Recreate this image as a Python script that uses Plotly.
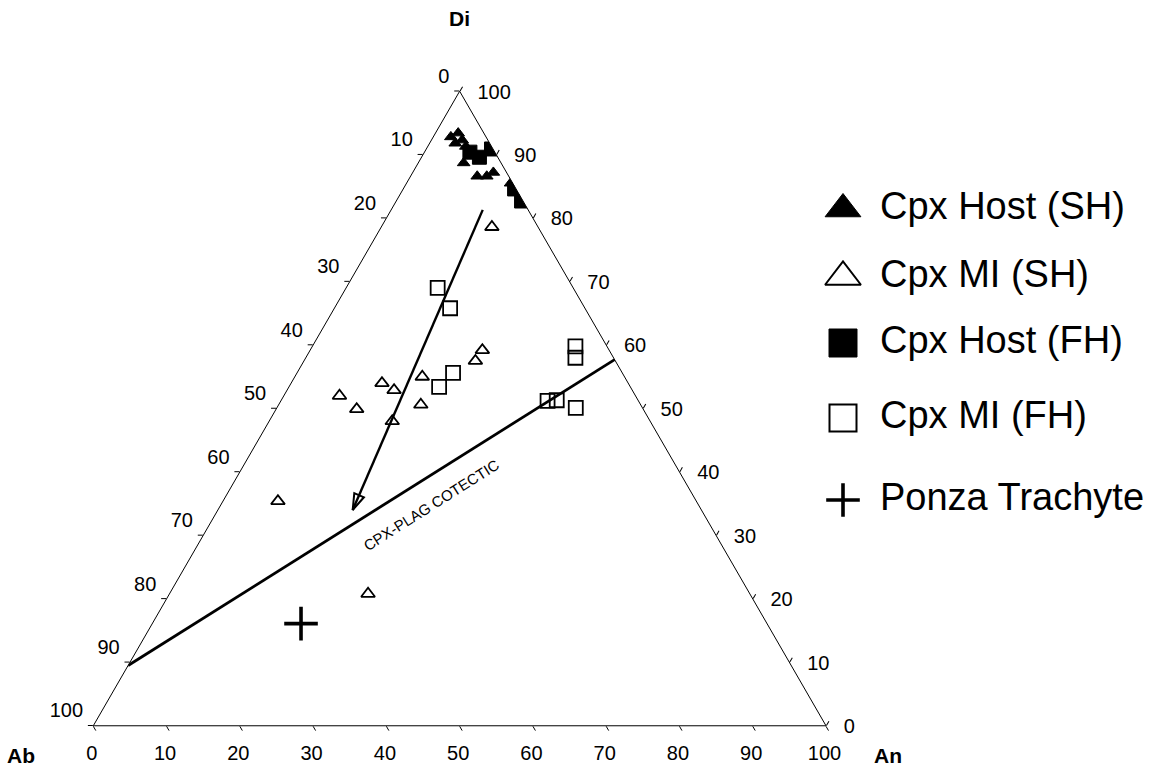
import plotly.graph_objects as go

# ---- compositions (mol %): Di / Ab / An ----
host_sh_di = [92.8, 93.4, 91.8, 92.3, 91.3, 88.7, 86.6, 86.6, 87.2, 85.5]
host_sh_ab = [4.8, 3.5, 4.7, 3.5, 3.5, 5.1, 4.3, 3.0, 1.8, 0.3]
host_sh_an = [2.4, 3.1, 3.5, 4.2, 5.2, 6.2, 9.1, 10.4, 11.0, 14.2]

mi_sh_di = [78.6, 59.2, 57.5, 55.0, 54.0, 52.9, 52.0, 49.9, 50.6, 48.0, 35.4, 20.8]
mi_sh_ab = [6.3, 17.3, 19.1, 27.6, 33.6, 32.5, 40.4, 39.1, 30.0, 35.2, 57.1, 52.1]
mi_sh_an = [15.1, 23.5, 23.4, 17.4, 12.4, 14.6, 7.6, 11.0, 19.4, 16.8, 7.5, 27.1]

host_fh_di = [90.4, 89.6, 90.9, 84.6, 82.7]
host_fh_ab = [3.4, 2.5, 0.2, 0.2, 0.2]
host_fh_an = [6.2, 7.9, 8.9, 15.2, 17.1]

mi_fh_di = [69.0, 65.8, 55.6, 53.4, 59.8, 58.0, 51.2, 51.3, 50.1]
mi_fh_ab = [18.5, 18.4, 23.1, 26.1, 4.3, 5.2, 12.4, 11.1, 9.1]
mi_fh_an = [12.5, 15.8, 21.3, 20.5, 35.9, 36.8, 36.4, 37.6, 40.8]

ponza_di = [16.1]
ponza_ab = [63.6]
ponza_an = [20.3]

# Cpx-Plag cotectic and the melt-inclusion evolution trend
cotectic_di = [9.5, 57.7]
cotectic_ab = [90.5, 0.0]
cotectic_an = [0.0, 42.3]

trend_di = [81.3, 34.0]
trend_ab = [6.2, 47.6]
trend_an = [12.5, 18.4]

tick_vals = list(range(0, 101, 10))
series_names = ["Cpx Host (SH)", "Cpx MI (SH)", "Cpx Host (FH)", "Cpx MI (FH)", "Ponza Trachyte"]

FONT = "Liberation Sans, Arial, sans-serif"
W, H = 1150, 769
# triangle placement (pixels): bottom-left / bottom-right x, bottom / apex y
TX0, TX1, TY_BOT, TY_TOP = 93.3, 826.0, 726.0, 91.0

fig = go.Figure()

fig.add_trace(go.Scatterternary(
    a=cotectic_di, b=cotectic_ab, c=cotectic_an, mode="lines",
    line=dict(color="black", width=2.8), showlegend=False, hoverinfo="skip"))

fig.add_trace(go.Scatterternary(
    a=trend_di, b=trend_ab, c=trend_an, mode="lines+markers",
    line=dict(color="black", width=2.4),
    marker=dict(symbol=["circle", "arrow-open"], size=[0, 17], angleref="previous",
                opacity=1, color="black", line=dict(color="black", width=2)),
    showlegend=False, hoverinfo="skip"))

styles = [
    (host_sh_di, host_sh_ab, host_sh_an, "triangle-up", 11, 1),
    (mi_sh_di, mi_sh_ab, mi_sh_an, "triangle-up-open", 12, 1.8),
    (host_fh_di, host_fh_ab, host_fh_an, "square", 14, 1),
    (mi_fh_di, mi_fh_ab, mi_fh_an, "square-open", 14, 1.8),
    (ponza_di, ponza_ab, ponza_an, "cross-thin-open", 24, 3.6),
]
for (a, b, c, sym, size, lw), name in zip(styles, series_names):
    fig.add_trace(go.Scatterternary(
        a=a, b=b, c=c, mode="markers", name=name,
        marker=dict(symbol=sym, size=size, color="black", opacity=1,
                    line=dict(color="black", width=lw)),
        showlegend=False))

# ---- legend drawn as its own panel on the right ----
legend_syms = [("triangle-up", 31, 1), ("triangle-up-open", 31, 2),
               ("square", 28, 1), ("square-open", 27, 2), ("cross-thin-open", 24, 3.6)]
legend_row_y = [209, 277, 343, 418, 500]
fig.add_trace(go.Scatter(
    x=[843] * len(series_names), y=legend_row_y, mode="markers",
    marker=dict(symbol=[s[0] for s in legend_syms], size=[s[1] for s in legend_syms],
                opacity=1, color="black",
                line=dict(color="black", width=[s[2] for s in legend_syms])),
    xaxis="x", yaxis="y", showlegend=False, hoverinfo="skip", cliponaxis=False))
fig.add_trace(go.Scatter(
    x=[880] * len(series_names), y=legend_row_y, mode="text", text=series_names,
    textposition="middle right", textfont=dict(family=FONT, size=38, color="black"),
    xaxis="x", yaxis="y", showlegend=False, hoverinfo="skip", cliponaxis=False))


def ternary_axis(labels, line):
    return dict(
        title=dict(text=""),
        tickmode="array", tickvals=tick_vals,
        ticktext=[str(100 - v) for v in tick_vals],
        ticks="outside", ticklen=5, tickwidth=1,
        tickcolor="black" if line else "rgba(0,0,0,0)",
        showticklabels=labels,
        showgrid=False, showline=line, linecolor="black", linewidth=1,
        tickfont=dict(family=FONT, size=20, color="black"),
    )


def domain(dx=0.0, dy=0.0):
    # dx, dy in pixels (dy positive = downwards)
    return dict(x=[(TX0 + dx) / W, (TX1 + dx) / W],
                y=[1 - (TY_BOT + dy) / H, 1 - (TY_TOP + dy) / H])


# main triangle: edges and tick marks; tick labels sit on transparent overlays
# so that each edge's numbers can be spaced independently of the tick marks
ternaries = dict(
    ternary=dict(sum=100, domain=domain(), bgcolor="white",
                 aaxis=ternary_axis(False, True), baxis=ternary_axis(False, True),
                 caxis=ternary_axis(False, True)),
    ternary2=dict(sum=100, domain=domain(-2, -13), bgcolor="rgba(0,0,0,0)",
                  aaxis=ternary_axis(True, False), baxis=ternary_axis(False, False),
                  caxis=ternary_axis(False, False)),
    ternary3=dict(sum=100, domain=domain(-4, 4), bgcolor="rgba(0,0,0,0)",
                  aaxis=ternary_axis(False, False), baxis=ternary_axis(True, False),
                  caxis=ternary_axis(False, False)),
    ternary4=dict(sum=100, domain=domain(12, 7), bgcolor="rgba(0,0,0,0)",
                  aaxis=ternary_axis(False, False), baxis=ternary_axis(False, False),
                  caxis=ternary_axis(True, False)),
)
for sp in ["ternary2", "ternary3", "ternary4"]:
    fig.add_trace(go.Scatterternary(a=[], b=[], c=[], subplot=sp, mode="markers",
                                    showlegend=False, hoverinfo="skip"))

fig.update_layout(
    width=W, height=H,
    margin=dict(l=0, r=0, t=0, b=0),
    paper_bgcolor="white", plot_bgcolor="rgba(0,0,0,0)",
    showlegend=False,
    xaxis=dict(domain=[828 / W, 1], range=[828, W], visible=False, fixedrange=True),
    yaxis=dict(domain=[0, 1], range=[H, 0], visible=False, fixedrange=True),
    annotations=[
        dict(text="<b>Di</b>", x=459 / W, y=1 - 18 / H),
        dict(text="<b>Ab</b>", x=21 / W, y=1 - 755 / H),
        dict(text="<b>An</b>", x=888 / W, y=1 - 755 / H),
    ],
    **ternaries,
)
fig.update_annotations(xref="paper", yref="paper", xanchor="center", yanchor="middle",
                       showarrow=False, borderpad=0,
                       font=dict(family=FONT, size=21, color="black"))
fig.add_annotation(text="CPX-PLAG COTECTIC", x=432 / W, y=1 - 505 / H, xref="paper",
                   yref="paper", xanchor="center", yanchor="middle", showarrow=False,
                   textangle=-32.3, font=dict(family=FONT, size=15, color="black"))

fig.write_html("out.html")
